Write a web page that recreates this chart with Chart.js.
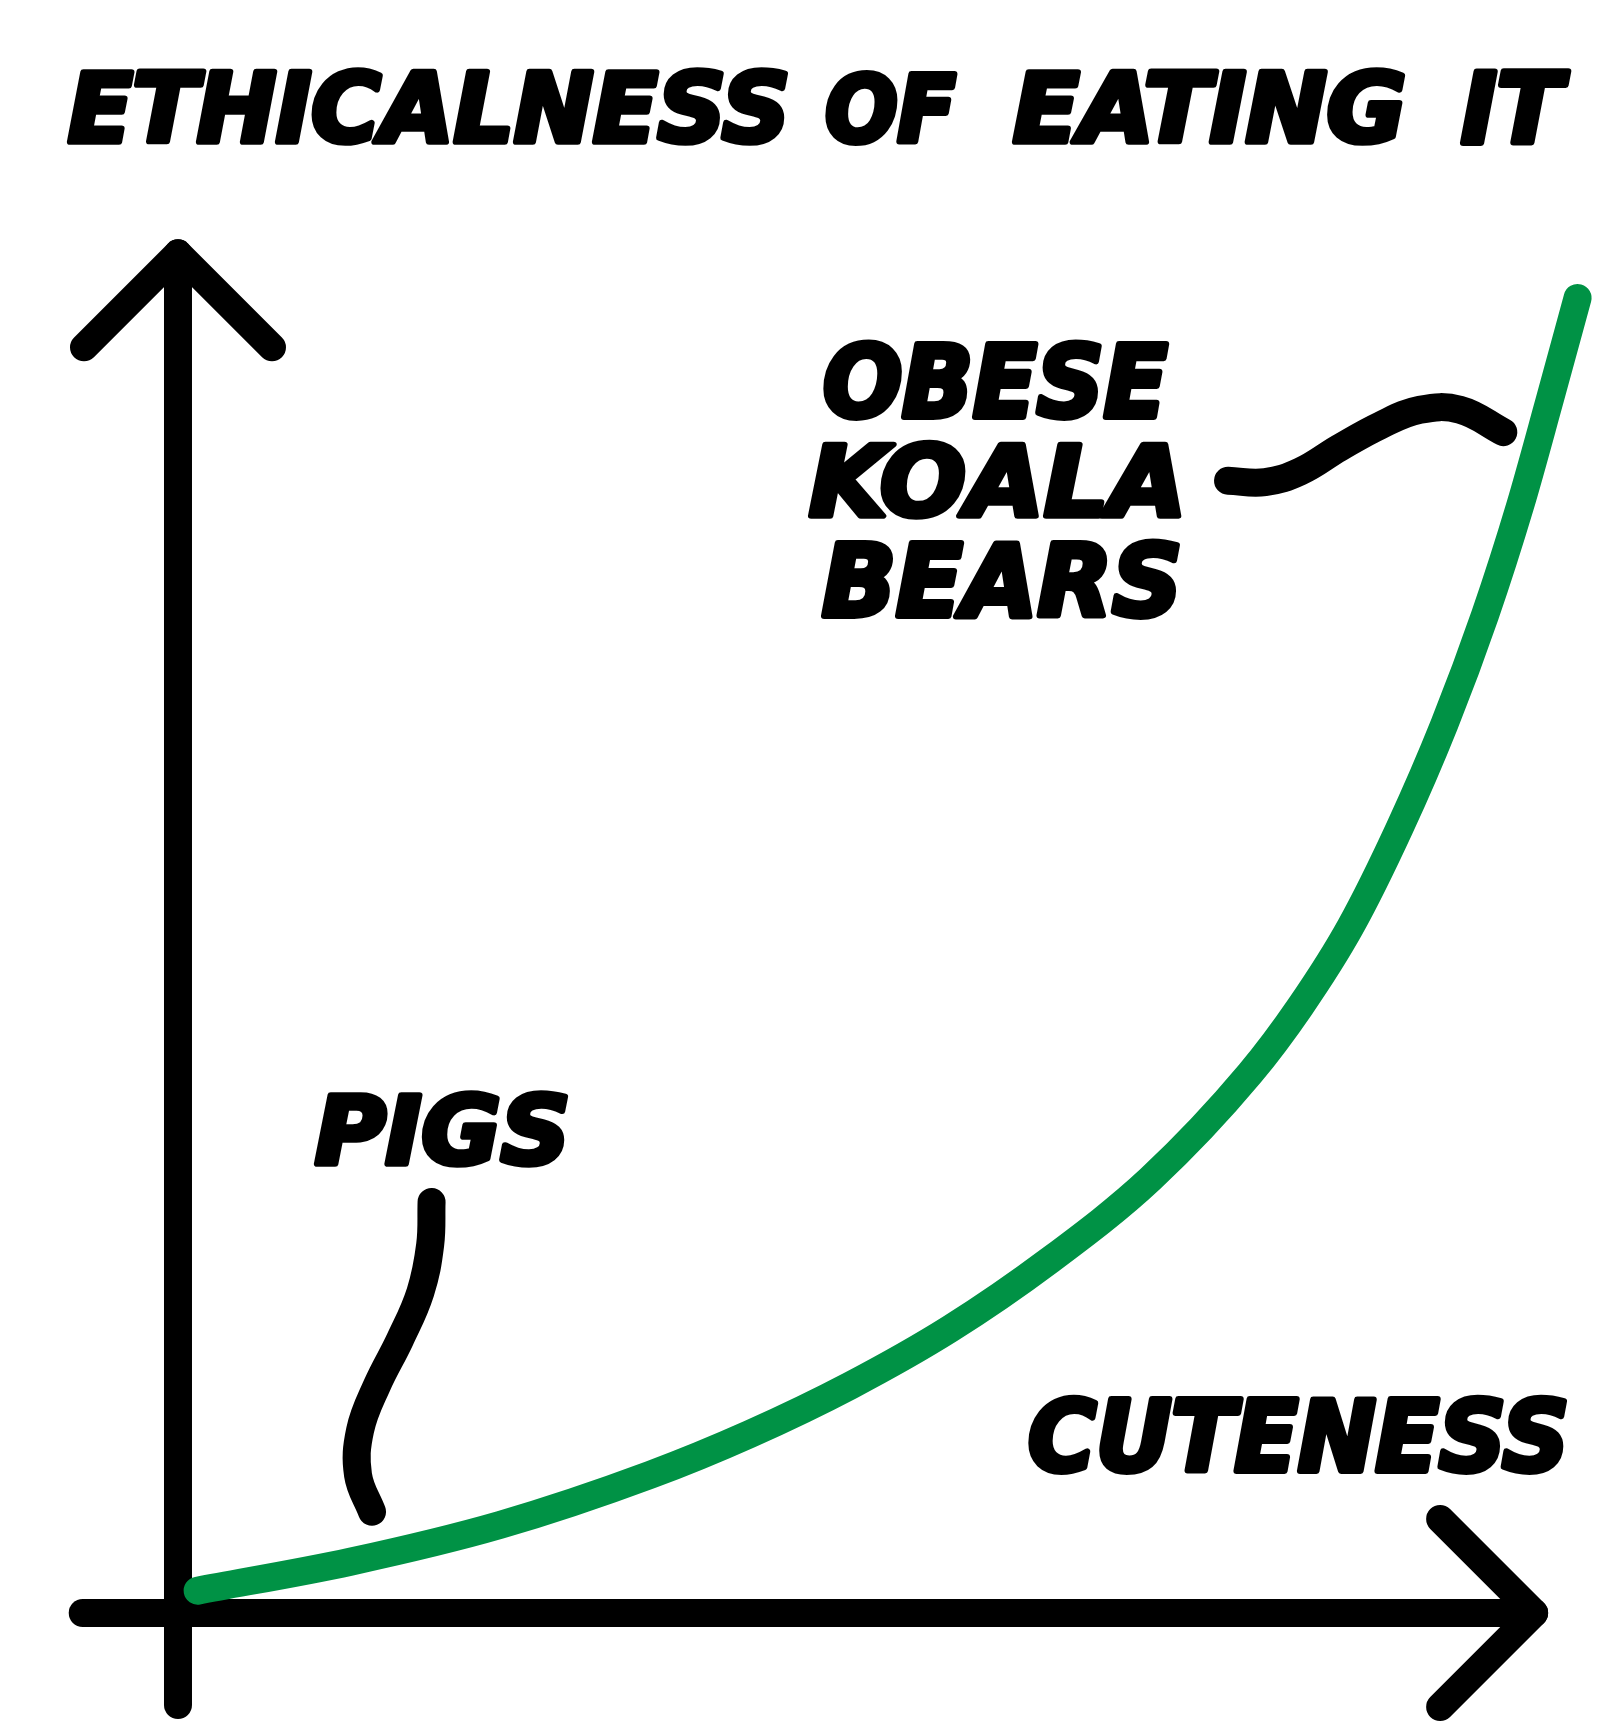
<!DOCTYPE html>
<html>
<head>
<meta charset="utf-8">
<script src="https://cdn.jsdelivr.net/npm/chart.js@4.4.1/dist/chart.umd.min.js"></script>
<style>
  html, body { margin: 0; padding: 0; background: #ffffff; }
  #wrap { position: relative; width: 1621px; height: 1736px; }
</style>
</head>
<body>
<div id="wrap"><canvas id="c"></canvas></div>
<script>
// ---------- data (cuteness 0-100 vs ethicalness 0-100) ----------
const cuteness    = [1.4, 12.3, 23.0, 33.7, 40.8, 48.0, 55.1, 62.2, 69.4, 76.5, 80.1, 83.7, 87.2, 90.4, 93.3, 95.8, 97.9, 99.9];
const ethicalness = [1.7,  3.9,  6.7, 10.5, 13.6, 17.3, 21.6, 26.8, 33.0, 41.0, 46.1, 52.2, 59.7, 67.6, 75.9, 84.2, 92.2, 100.0];

// annotation pointer strokes (in data units)
const koalaPointerX = [74.95, 77.6, 80.1, 82.9, 85.8, 88.65, 91.5, 94.6];
const koalaPointerY = [86.1, 86.0, 86.8, 88.6, 90.3, 91.5, 91.5, 89.8];
const pigsPointerX  = [18.1, 18.0, 17.3, 15.85, 14.2, 13.0, 12.85, 13.85];
const pigsPointerY  = [31.25, 28.0, 24.4, 20.8, 17.3, 13.9, 10.5, 7.7];

// texts
const titleWords  = ['ETHICALNESS', 'OF', 'EATING', 'IT'];
const xAxisLabel  = 'CUTENESS';
const koalaLabel  = ['OBESE', 'KOALA', 'BEARS'];
const pigsLabel   = 'PIGS';

// axis extents (data units)
const xAxisRange = [-6.8, 96.8];
const yAxisRange = [-7.0, 103.4];

// ---------- build ----------
const GREEN = '#009245';
const toPts = (xs, ys) => xs.map((x, i) => ({ x: x, y: ys[i] }));

const axesPlugin = {
  id: 'handAxes',
  beforeDatasetsDraw(chart) {
    const ctx = chart.ctx, sx = chart.scales.x, sy = chart.scales.y;
    const ox = sx.getPixelForValue(0), oy = sy.getPixelForValue(0);
    const head = 94;
    ctx.save();
    ctx.strokeStyle = '#000';
    ctx.lineWidth = 28;
    ctx.lineCap = 'round';
    ctx.lineJoin = 'round';
    // y axis
    const yb = sy.getPixelForValue(yAxisRange[0]), yt = sy.getPixelForValue(yAxisRange[1]);
    ctx.beginPath(); ctx.moveTo(ox, yb); ctx.lineTo(ox, yt); ctx.stroke();
    ctx.beginPath(); ctx.moveTo(ox - head, yt + head); ctx.lineTo(ox, yt); ctx.lineTo(ox + head, yt + head); ctx.stroke();
    // x axis
    const xl = sx.getPixelForValue(xAxisRange[0]), xr = sx.getPixelForValue(xAxisRange[1]);
    ctx.beginPath(); ctx.moveTo(xl, oy); ctx.lineTo(xr, oy); ctx.stroke();
    ctx.beginPath(); ctx.moveTo(xr - head, oy - head); ctx.lineTo(xr, oy); ctx.lineTo(xr - head, oy + head); ctx.stroke();
    ctx.restore();
  }
};

function drawFitted(ctx, text, box, font) {
  ctx.save();
  ctx.font = font;
  ctx.textAlign = 'left';
  ctx.textBaseline = 'alphabetic';
  const m = ctx.measureText(text);
  const l = m.actualBoundingBoxLeft, r = m.actualBoundingBoxRight;
  const a = m.actualBoundingBoxAscent, d = m.actualBoundingBoxDescent;
  const pad = 3;
  const kx = (box[2] - box[0] - 2 * pad) / (l + r);
  const ky = (box[3] - box[1] - 2 * pad) / (a + d);
  ctx.translate(box[0] + pad, box[1] + pad);
  ctx.scale(kx, ky);
  ctx.fillStyle = '#000';
  ctx.strokeStyle = '#000';
  ctx.lineJoin = 'round';
  ctx.lineWidth = 6 / Math.sqrt(kx * ky);
  ctx.fillText(text, l, a);
  ctx.strokeText(text, l, a);
  ctx.restore();
}

const textPlugin = {
  id: 'handText',
  afterDatasetsDraw(chart, args, opts) {
    const ctx = chart.ctx;
    const font = 'italic bold 100px "DejaVu Sans Condensed", "DejaVu Sans", sans-serif';
    opts.items.forEach(it => drawFitted(ctx, it.text, it.box, font));
  }
};

const strokeStyle = {
  showLine: true,
  borderWidth: 28,
  borderCapStyle: 'round',
  borderJoinStyle: 'round',
  pointRadius: 0,
  pointHoverRadius: 0,
  fill: false,
  clip: false
};

new Chart(document.getElementById('c'), {
  type: 'line',
  data: {
    datasets: [
      Object.assign({}, strokeStyle, {
        label: 'Ethicalness of eating it',
        data: toPts(cuteness, ethicalness),
        borderColor: GREEN,
        backgroundColor: GREEN,
        cubicInterpolationMode: 'monotone',
        order: 3
      }),
      Object.assign({}, strokeStyle, {
        label: 'koala pointer',
        data: toPts(koalaPointerX, koalaPointerY),
        borderColor: '#000',
        backgroundColor: '#000',
        tension: 0.4,
        order: 1
      }),
      Object.assign({}, strokeStyle, {
        label: 'pigs pointer',
        data: toPts(pigsPointerX, pigsPointerY),
        borderColor: '#000',
        backgroundColor: '#000',
        tension: 0.4,
        order: 2
      })
    ]
  },
  options: {
    responsive: true,
    maintainAspectRatio: false,
    animation: false,
    layout: { padding: 0 },
    scales: {
      x: { type: 'linear', min: -12.705, max: 103.0, bounds: 'data', display: false },
      y: { type: 'linear', min: -9.354, max: 122.662, bounds: 'data', display: false }
    },
    plugins: {
      legend: { display: false },
      tooltip: { enabled: false },
      title: { display: false },
      handText: {
        items: [
          { text: titleWords[0], box: [66, 67, 788, 146] },
          { text: titleWords[1], box: [825, 69, 958, 146] },
          { text: titleWords[2], box: [1011, 67, 1406, 146] },
          { text: titleWords[3], box: [1459, 67, 1572, 146] },
          { text: koalaLabel[0], box: [823, 339, 1170, 421] },
          { text: koalaLabel[1], box: [807, 440, 1182, 520] },
          { text: koalaLabel[2], box: [820, 538, 1180, 620] },
          { text: pigsLabel,     box: [313, 1090, 568, 1168] },
          { text: xAxisLabel,    box: [1028, 1394, 1567, 1475] }
        ]
      }
    }
  },
  plugins: [axesPlugin, textPlugin]
});
</script>
</body>
</html>
